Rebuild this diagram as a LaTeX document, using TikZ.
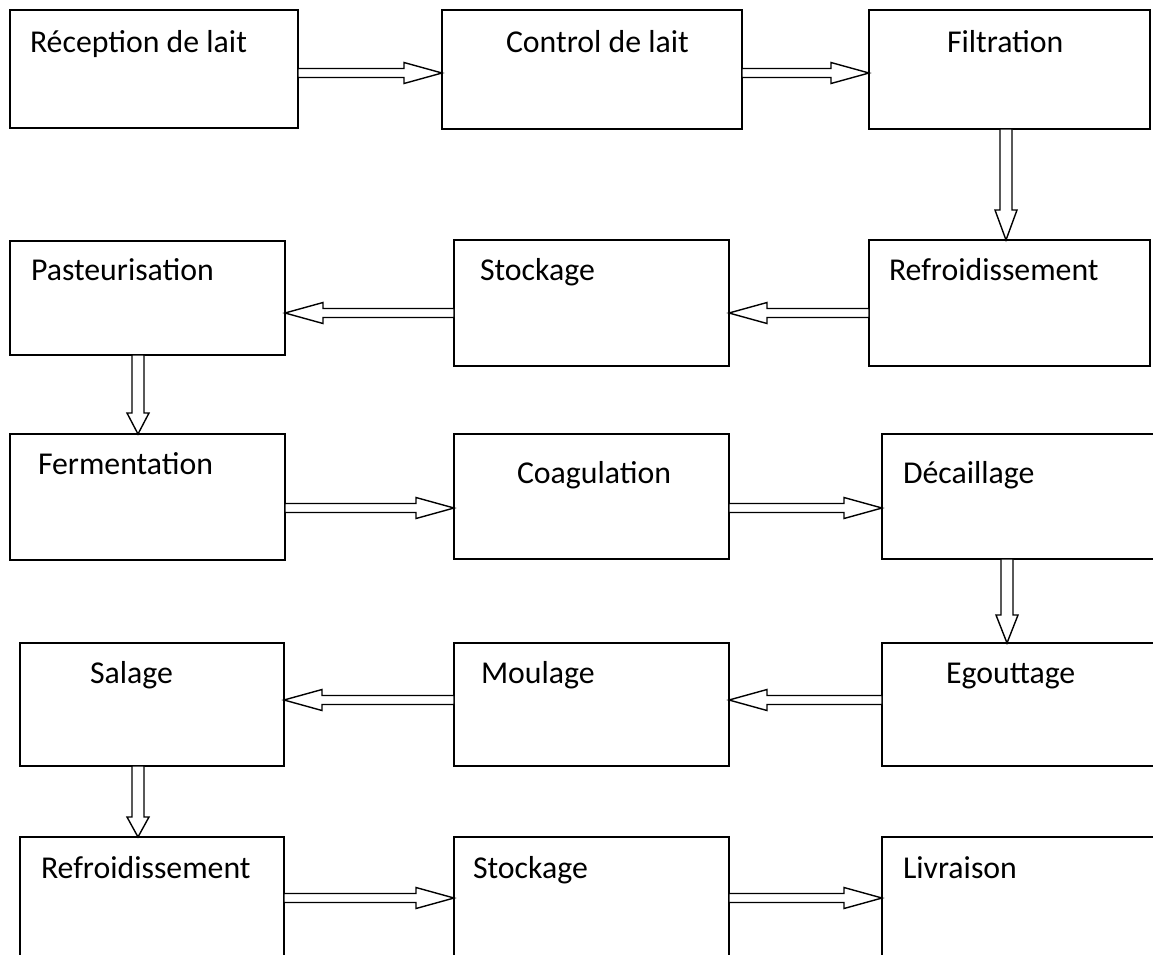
\documentclass[tikz,border=0pt]{standalone}
\usepackage{fontspec}
\setmainfont{Carlito}
\usetikzlibrary{calc}
\tikzset{
every node/.style={inner sep=0pt, outer sep=0pt},
box/.style={rectangle, draw, line width=1.5pt, anchor=north west},
lbl/.style={anchor=base west, font=\fontsize{31.8}{38}\selectfont},
hflow/.style={draw, line width=1.4pt, fill=white,
  to path={let \p1=(\tikztostart), \p2=(\tikztotarget), \n1={sign(\x2-\x1)*38} in
    (\x1,{\y1+4.5pt}) -- ({\x2-\n1},{\y1+4.5pt}) -- ({\x2-\n1},{\y1+10.5pt}) -- (\x2,\y1)
    -- ({\x2-\n1},{\y1-10.5pt}) -- ({\x2-\n1},{\y1-4.5pt}) -- (\x1,{\y1-4.5pt}) -- cycle}},
vflow/.style={draw, line width=1.4pt, fill=white,
  to path={let \p1=(\tikztostart), \p2=(\tikztotarget), \n1={sign(\y2-\y1)*#1} in
    ({\x1-6pt},\y1) -- ({\x1-6pt},{\y2-\n1}) -- ({\x1-11pt},{\y2-\n1}) -- (\x1,\y2)
    -- ({\x1+11pt},{\y2-\n1}) -- ({\x1+6pt},{\y2-\n1}) -- ({\x1+6pt},\y1) -- cycle}},
vflow/.default=26
}

\begin{document}
\begin{tikzpicture}[x=1pt,y=-1pt]
\useasboundingbox (0,0) rectangle (1153,954);

% boxes
\node [box, minimum width=288pt, minimum height=118pt] (recep) at (10,10) {};
\node [box, minimum width=300pt, minimum height=119pt] (ctrl) at (442,10) {};
\node [box, minimum width=281pt, minimum height=119pt] (filtr) at (869,10) {};
\node [box, minimum width=275pt, minimum height=114pt] (past) at (10,241) {};
\node [box, minimum width=275pt, minimum height=126pt] (stock1) at (454,240) {};
\node [box, minimum width=281pt, minimum height=126pt] (refr1) at (869,240) {};
\node [box, minimum width=275pt, minimum height=126pt] (ferm) at (10,434) {};
\node [box, minimum width=275pt, minimum height=125pt] (coag) at (454,434) {};
\node [box, minimum width=282pt, minimum height=125pt] (decail) at (882,434) {};
\node [box, minimum width=264pt, minimum height=123pt] (salage) at (20,643) {};
\node [box, minimum width=275pt, minimum height=123pt] (moul) at (454,643) {};
\node [box, minimum width=282pt, minimum height=123pt] (egout) at (882,643) {};
\node [box, minimum width=264pt, minimum height=130pt] (refr2) at (20,837) {};
\node [box, minimum width=275pt, minimum height=130pt] (stock2) at (454,837) {};
\node [box, minimum width=282pt, minimum height=130pt] (livr) at (882,837) {};

% texts
\node [lbl] (recep-t) at (30,52) {Réception de lait};
\node [lbl] (ctrl-t) at (506,52) {Control de lait};
\node [lbl] (filtr-t) at (947,52) {Filtration};
\node [lbl] (past-t) at (31,280) {Pasteurisation};
\node [lbl] (stock1-t) at (480,280) {Stockage};
\node [lbl] (refr1-t) at (889,280) {Refroidissement};
\node [lbl] (ferm-t) at (38,474) {Fermentation};
\node [lbl] (coag-t) at (517,483) {Coagulation};
\node [lbl] (decail-t) at (903,483) {Décaillage};
\node [lbl] (salage-t) at (90,683) {Salage};
\node [lbl] (moul-t) at (481,683) {Moulage};
\node [lbl] (egout-t) at (946,683) {Egouttage};
\node [lbl] (refr2-t) at (41,878) {Refroidissement};
\node [lbl] (stock2-t) at (473,878) {Stockage};
\node [lbl] (livr-t) at (903,878) {Livraison};

% arrows
\draw[hflow] ([yshift=-4pt]recep.east) to (ctrl.west);
\draw[hflow] ([yshift=-3.5pt]ctrl.east) to (filtr.west);
\draw[vflow=30] ([xshift=-3.5pt]filtr.south) to (refr1.north);
\draw[hflow] ([yshift=-10pt]refr1.west) to (stock1.east);
\draw[hflow] ([yshift=-10pt]stock1.west) to (past.east);
\draw[vflow=21] ([xshift=-9.5pt]past.south) to (ferm.north);
\draw[hflow] ([yshift=-11pt]ferm.east) to (coag.west);
\draw[hflow] ([yshift=-11.5pt]coag.east) to (decail.west);
\draw[vflow=28] ([xshift=-16pt]decail.south) to (egout.north);
\draw[hflow] ([yshift=4.5pt]egout.west) to (moul.east);
\draw[hflow] ([yshift=4.5pt]moul.west) to (salage.east);
\draw[vflow=20] ([xshift=-14pt]salage.south) to (refr2.north);
\draw[hflow] ([yshift=4pt]refr2.east) to (stock2.west);
\draw[hflow] ([yshift=4pt]stock2.east) to (livr.west);
\end{tikzpicture}
\end{document}
